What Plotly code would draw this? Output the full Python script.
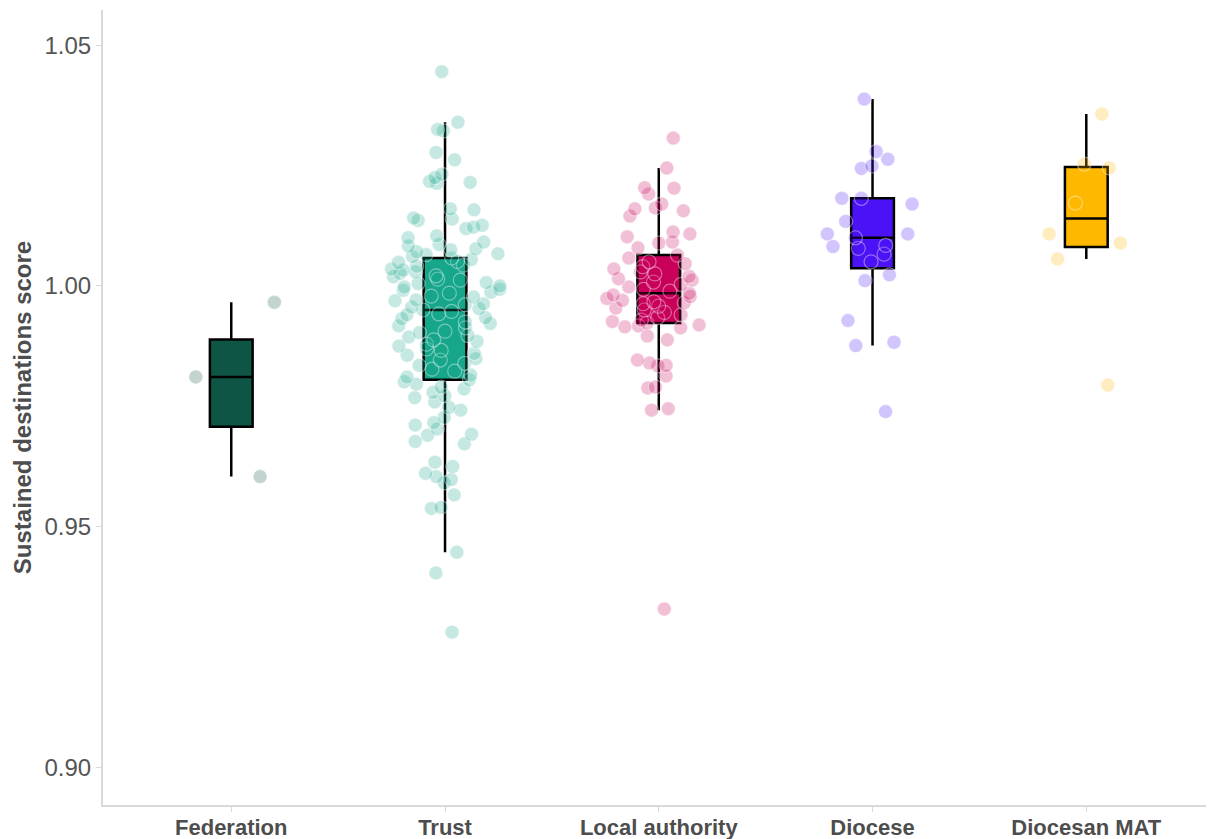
import numpy as np
import plotly.graph_objects as go

# ---------------- data ----------------
categories = ["Federation", "Trust", "Local authority", "Diocese", "Diocesan MAT"]

federation = [0.9966, 0.9811, 0.9604]

trust = [
    1.0445, 1.0340, 1.0325, 1.0322, 1.0277, 1.0262, 1.0232, 1.0225, 1.0217, 1.0215,
    1.0213, 1.0160, 1.0158, 1.0141, 1.0139, 1.0136, 1.0126, 1.0122, 1.0119, 1.0104,
    1.0100, 1.0091, 1.0086, 1.0083, 1.0077, 1.0075, 1.0071, 1.0067, 1.0065, 1.0061,
    1.0058,
    1.0055, 1.0051, 1.0049, 1.0043, 1.0041, 1.0035, 1.0033, 1.0029, 1.0026, 1.0021,
    1.0019, 1.0014, 1.0012, 1.0007, 1.0005, 1.0000, 0.9998, 0.9993, 0.9991, 0.9987,
    0.9985, 0.9979, 0.9977, 0.9971, 0.9969, 0.9963, 0.9961, 0.9956, 0.9953,
    0.9950,
    0.9947, 0.9942, 0.9940, 0.9934, 0.9932, 0.9925, 0.9922, 0.9917, 0.9913, 0.9906,
    0.9903, 0.9897, 0.9894, 0.9888, 0.9885, 0.9879, 0.9875, 0.9869, 0.9866, 0.9860,
    0.9856, 0.9849, 0.9846, 0.9839, 0.9835, 0.9827, 0.9823, 0.9815, 0.9811,
    0.9805,
    0.9801, 0.9796, 0.9790, 0.9786, 0.9779, 0.9772, 0.9768, 0.9759, 0.9748, 0.9742,
    0.9727, 0.9716, 0.9711, 0.9703, 0.9692, 0.9690, 0.9677, 0.9672, 0.9634, 0.9625,
    0.9611, 0.9604, 0.9598, 0.9591, 0.9566, 0.9540, 0.9538, 0.9447, 0.9404, 0.9281,
]

local_authority = [
    1.0307, 1.0245, 1.0204, 1.0203, 1.0191, 1.0170, 1.0162, 1.0160, 1.0156, 1.0145,
    1.0112, 1.0108, 1.0102, 1.0091, 1.0089, 1.0079,
    1.0064,
    1.0058, 1.0050, 1.0046, 1.0040, 1.0035, 1.0029, 1.0025, 1.0020, 1.0015, 1.0012,
    1.0008, 1.0003, 0.9998, 0.9993, 0.9989,
    0.9985,
    0.9981, 0.9978, 0.9974, 0.9970, 0.9967, 0.9965, 0.9963, 0.9958, 0.9954, 0.9950,
    0.9945, 0.9940, 0.9934, 0.9929, 0.9926,
    0.9923,
    0.9919, 0.9917, 0.9915, 0.9913, 0.9896, 0.9888, 0.9846, 0.9840, 0.9835, 0.9834,
    0.9813, 0.9790, 0.9788, 0.9745, 0.9742, 0.9329,
]

diocese = [
    1.0388, 1.0279, 1.0263, 1.0249, 1.0244, 1.0182, 1.0182, 1.0170, 1.0134, 1.0108,
    1.0108, 1.0100, 1.0084, 1.0082, 1.0078, 1.0066, 1.0050, 1.0023, 1.0011, 0.9928,
    0.9883, 0.9876, 0.9739,
]

diocesan_mat = [1.0357, 1.0253, 1.0245, 1.0172, 1.0108, 1.0089, 1.0056, 0.9794]

y_ticks = [0.90, 0.95, 1.00, 1.05]

# ---------------- styles ----------------
series = [federation, trust, local_authority, diocese, diocesan_mat]
box_colors = ["#0E5545", "#16A68A", "#C8005A", "#4A12F5", "#FFB800"]
point_alpha = 0.25
FONT = "Liberation Sans, Arial, sans-serif"


def rgba(hex_color, a):
    h = hex_color.lstrip("#")
    r, g, b = int(h[0:2], 16), int(h[2:4], 16), int(h[4:6], 16)
    return f"rgba({r},{g},{b},{a})"


def box_stats(values):
    v = np.sort(np.asarray(values, dtype=float))
    q1, med, q3 = np.percentile(v, [25, 50, 75])
    iqr = q3 - q1
    lo = v[v >= q1 - 1.5 * iqr].min()
    hi = v[v <= q3 + 1.5 * iqr].max()
    return q1, med, q3, lo, hi


fig = go.Figure()

# boxes (ggplot-style quantiles, whiskers to 1.5 IQR, no caps)
for cat, vals, col in zip(categories, series, box_colors):
    q1, med, q3, lo, hi = box_stats(vals)
    fig.add_trace(go.Box(
        x=[cat], q1=[q1], median=[med], q3=[q3],
        lowerfence=[lo], upperfence=[hi],
        width=0.2, whiskerwidth=0, fillcolor=col,
        line=dict(color="black", width=2.5),
        boxpoints=False, showlegend=False, hoverinfo="skip",
    ))

# jittered points on top
for cat, vals, col in zip(categories, series, box_colors):
    fig.add_trace(go.Box(
        x=[cat] * len(vals), y=vals,
        boxpoints="all", jitter=1, pointpos=0, width=0.52,
        whiskerwidth=0,
        fillcolor="rgba(0,0,0,0)",
        line=dict(color="rgba(0,0,0,0)", width=0),
        marker=dict(size=14, color=rgba(col, point_alpha),
                    line=dict(color="rgba(255,255,255,0.4)", width=1.2)),
        showlegend=False, hoveron="points",
    ))

fig.update_layout(
    width=1208, height=839,
    margin=dict(l=103, r=2, t=10, b=34),
    paper_bgcolor="white", plot_bgcolor="white",
    boxmode="overlay",
    showlegend=False,
    font=dict(family=FONT, color="#4d4d4d"),
)

fig.update_xaxes(
    type="category", categoryorder="array", categoryarray=categories,
    range=[-0.6, 4.56], automargin=False,
    showline=True, linecolor="#d9d9d9", linewidth=2,
    ticks="outside", ticklen=5, tickcolor="#d9d9d9", tickwidth=1,
    ticklabelstandoff=-3,
    showgrid=False, zeroline=False,
    tickfont=dict(size=22, color="#4d4d4d", family=FONT, weight="bold"),
)

fig.update_yaxes(
    range=[0.8922, 1.0573], automargin=False,
    tickvals=y_ticks, tickformat=".2f",
    showline=True, linecolor="#d9d9d9", linewidth=2,
    ticks="outside", ticklen=5, tickcolor="#d9d9d9", tickwidth=1,
    showgrid=False, zeroline=False,
    tickfont=dict(size=24, color="#555555", family=FONT),
    title=dict(text="Sustained destinations score", standoff=6,
               font=dict(size=24, color="#4d4d4d", family=FONT, weight="bold")),
)

fig.write_html("out.html")
